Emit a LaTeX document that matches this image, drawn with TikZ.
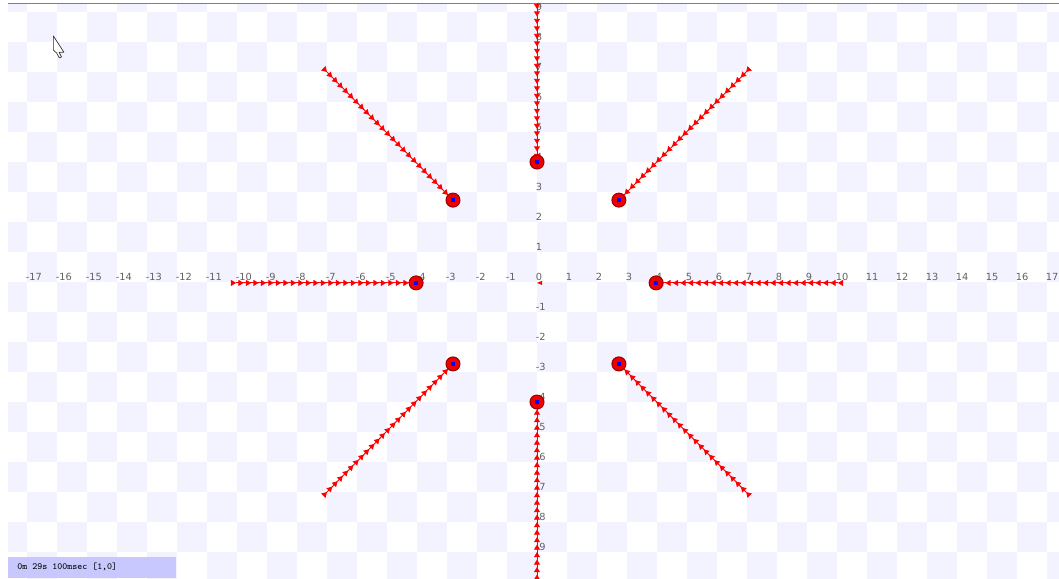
\documentclass[tikz,border=0pt]{standalone}
\usepackage{xcolor}
\usepackage{fontspec}
\usepackage{tikz}
\usetikzlibrary{arrows.meta,decorations.markings}

\newfontfamily\axisfont{DejaVu Sans}
\definecolor{boardblue}{RGB}{243,243,255}
\definecolor{barblue}{RGB}{200,200,255}
\definecolor{dotred}{RGB}{238,0,0}
\definecolor{dotedge}{RGB}{150,0,0}

\begin{document}
\begin{tikzpicture}[
  x=15pt, y=15pt,
  tick/.style={font=\axisfont\fontsize{4.9}{6}\selectfont, text=black!62,
               anchor=south west, inner sep=0.4pt, xshift=-1.2pt},
  trail/.style={red, line width=0.45pt, postaction={decorate},
                decoration={markings, mark=between positions 0 and 1 step 3.75pt
                with {\arrow{Triangle[length=2.6pt,width=3pt]}}}},
  dot/.style={circle, fill=dotred, draw=dotedge, line width=0.5pt,
              minimum size=7pt, inner sep=0pt},
  status/.style={fill=barblue, anchor=south west, minimum width=84pt,
                 minimum height=10.5pt, inner sep=0pt}
]
\useasboundingbox (-17.9,-9.867) rectangle (17.4,9.4);

% ---------- checker board ----------
\begin{scope}
  \clip (-17.633,-9.867) rectangle (17.4,9.267);
  \foreach \i in {-18,...,17}{
    \foreach \j in {-10,...,9}{
      \pgfmathtruncatemacro{\m}{mod(abs(\i+\j),2)}
      \ifnum\m=1
        \fill[boardblue] (\i,\j) rectangle ++(1,1);
      \fi
    }
  }
\end{scope}
\draw[black!50, line width=0.5pt] (-17.633,9.267) -- (17.4,9.267);

% ---------- axis numbers ----------
\node[tick] (x0) at (0,0) {0};
\foreach \k in {-17,...,-1,1,2,...,17}
  \node[tick] (x\k) at (\k,0) {\k};
\foreach \k in {-9,...,-1,1,2,...,9}
  \node[tick] (y\k) at (0,\k) {\k};

% ---------- robots on the ring ----------
\coordinate (N)  at (0,4);
\coordinate (NE) at (2.73,2.73);
\coordinate (E)  at (3.97,-0.03);
\coordinate (SE) at (2.73,-2.73);
\coordinate (S)  at (0,-4);
\coordinate (SW) at (-2.8,-2.73);
\coordinate (W)  at (-4.03,-0.03);
\coordinate (NW) at (-2.8,2.73);

% where each trail starts
\coordinate (eN)  at (0,9.6);
\coordinate (eNE) at (6.97,7);
\coordinate (eE)  at (10.03,-0.03);
\coordinate (eSE) at (6.97,-7);
\coordinate (eS)  at (0,-10);
\coordinate (eSW) at (-7.0,-7);
\coordinate (eW)  at (-10.03,-0.03);
\coordinate (eNW) at (-7.0,7);

\begin{scope}
  \clip (-17.633,-9.867) rectangle (17.4,9.267);
  \foreach \d in {N,NE,E,SE,S,SW,W,NW}
    \draw[trail] (e\d) -- (\d);
\end{scope}
\foreach \d in {N,NE,E,SE,S,SW,W,NW}
  \node[dot] (r\d) at (\d) {\textcolor{blue}{\rule{2.2pt}{2.2pt}}};

% small mark left at the origin
\coordinate (o) at (0,-0.03);
\fill[red] (o) -- ++(0.17,0.07) -- ++(0,-0.14) -- cycle;

% ---------- mouse pointer ----------
\coordinate (ptr) at (-16.12,8.2);
\draw[black!80, fill=white, line width=0.35pt, line join=round] (ptr)
  -- ++(0,-0.47) -- ++(0.11,-0.1) -- ++(0.09,-0.16) -- ++(0.07,0.03)
  -- ++(-0.08,0.16) -- ++(0.16,0) -- cycle;

% ---------- status bar ----------
\node[status] (bar) at (-17.633,-9.867) {};
\node[font=\ttfamily\fontsize{4.7}{5}\selectfont, anchor=west, inner sep=0pt]
  (clock) at ([xshift=4.5pt]bar.west) {0m 29s 100msec [1,0]};

\end{tikzpicture}
\end{document}
